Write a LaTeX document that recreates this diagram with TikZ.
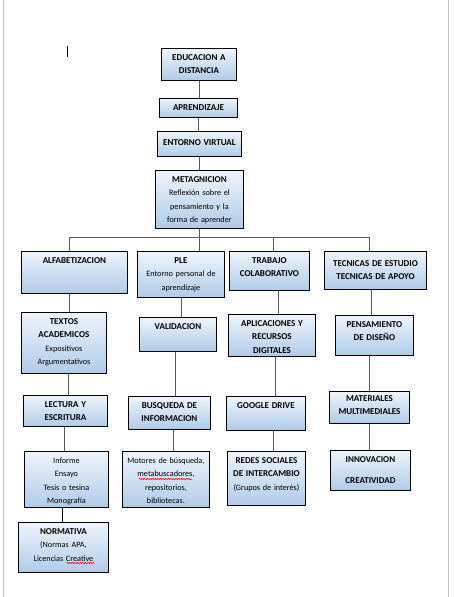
\documentclass[tikz,border=0pt]{standalone}
\usepackage{fontspec}
\setmainfont{Carlito}
\usepackage{xcolor}
\usetikzlibrary{decorations.pathmorphing}

\definecolor{boxtop}{HTML}{EEF4FB}
\definecolor{boxbot}{HTML}{AFCBE8}
\definecolor{linkgray}{HTML}{5A5A5A}
\definecolor{pagegray}{HTML}{C4C4C4}

\newcommand{\ttl}[1]{{\fontsize{9}{13.5}\selectfont\bfseries #1}}

\tikzset{
  box/.style={draw=black, line width=0.9, top color=boxtop, bottom color=boxbot,
    anchor=north west, align=center, inner xsep=2, inner ysep=4, text height=8,
    font=\fontsize{8.2}{13.5}\selectfont},
  link/.style={draw=linkgray, line width=0.8},
  spellerr/.style={draw=red, line width=0.5, decorate,
    decoration={snake, amplitude=0.7, segment length=2.6}},
}

\begin{document}
\begin{tikzpicture}[x=1pt,y=-1pt]
			\fill[white] (0,0) rectangle (453,597);
			\useasboundingbox (0,0) rectangle (453,597);
			\draw[pagegray,line width=1.5] (3.5,0) -- (3.5,597);
			\draw[pagegray,line width=1.5] (448.5,0) -- (448.5,597);
			\draw[line width=0.8] (67,46) -- (67,57);
			% main column
			\node[box,text width=71,text depth=16] (educ) at (161,48) {\ttl{EDUCACION A}\\\ttl{DISTANCIA}};
			\node[box,text width=74,text depth=3] (aprend) at (159,98) {\ttl{APRENDIZAJE}};
			\node[box,text width=80,text height=10,text depth=7] (entorno) at (157,131) {\ttl{ENTORNO VIRTUAL}};
			\node[box,text width=84,text depth=42] (metag) at (155,170) {\ttl{METAGNICION}\\Reflexión sobre el\\pensamiento y la\\forma de aprender};
			% second row
			\node[box,text width=102,text depth=26] (alf) at (21,251) {\ttl{ALFABETIZACION}};
			\node[box,text width=83,text depth=30] (ple) at (137,251) {\ttl{PLE}\\Entorno personal de\\aprendizaje};
			\node[box,text width=76,text depth=23] (trab) at (229,251) {\ttl{TRABAJO}\\\ttl{COLABORATIVO}};
			\node[box,text width=98,text height=11,text depth=19] (tecn) at (324,251) {\ttl{TECNICAS DE ESTUDIO}\\\ttl{TECNICAS DE APOYO}};
			% third row
			\node[box,text width=81,text depth=45] (textos) at (21,312) {\ttl{TEXTOS}\\\ttl{ACADEMICOS}\\Expositivos\\Argumentativos};
			\node[box,text width=73,text depth=18] (valid) at (139,317) {\ttl{VALIDACION}};
			\node[box,text width=83,text depth=26] (aplic) at (228,314) {\ttl{APLICACIONES Y}\\\ttl{RECURSOS}\\\ttl{DIGITALES}};
			\node[box,text width=74,text depth=24] (pensam) at (335,315) {\ttl{PENSAMIENTO}\\\ttl{DE DISEÑO}};
			% fourth row
			\node[box,text width=80,text depth=15] (lect) at (23,395) {\ttl{LECTURA Y}\\\ttl{ESCRITURA}};
			\node[box,text width=78,text depth=17] (busq) at (128,396) {\ttl{BUSQUEDA DE}\\\ttl{INFORMACION}};
			\node[box,text width=75,text depth=18] (google) at (226,396) {\ttl{GOOGLE DRIVE}};
			\node[box,text width=76,text height=6,text depth=18] (mater) at (329,391) {\ttl{MATERIALES}\\\ttl{MULTIMEDIALES}};
			% fifth row
			\node[box,text width=80,text depth=40] (inform) at (24,451) {Informe\\Ensayo\\Tesis o tesina\\Monografía};
			\node[box,text width=83,text depth=40] (motores) at (122,451) {Motores de búsqueda,\\metabuscadores,\\repositorios,\\bibliotecas.};
			\node[box,text width=74,text depth=38] (redes) at (227,451) {\ttl{REDES SOCIALES}\\\ttl{DE INTERCAMBIO}\\(Grupos de interés)};
			\node[box,text width=76,text depth=24] (innov) at (330,450) {\ttl{INNOVACION}\\[7.5pt]\ttl{CREATIVIDAD}};
			\node[box,text width=86,text depth=34] (normat) at (18,522) {\ttl{NORMATIVA}\\(Normas APA,\\Licencias Creative};
			% spelling marks
			\draw[spellerr] ([xshift=-27,yshift=-28]motores.north) -- ([xshift=26,yshift=-28]motores.north);
			\draw[spellerr] ([xshift=3,yshift=-41]normat.north) -- ([xshift=31,yshift=-41]normat.north);
			% connectors
			\coordinate (busL) at (69,237);
			\coordinate (busR) at (369,237);
			\draw[link] (educ.south) -- (educ.south |- aprend.north);
			\draw[link] (aprend.south) -- (aprend.south |- entorno.north);
			\draw[link] (entorno.south) -- (entorno.south |- metag.north);
			\draw[link] (metag.south) -- (metag.south |- ple.north);
			\draw[link] (busL) -- (busR);
			\draw[link] (busL) -- (busL |- alf.north);
			\draw[link] ([xshift=4]trab.north |- busL) -- ([xshift=4]trab.north);
			\draw[link] (busR) -- (busR |- tecn.north);
			\draw[link] (busL |- alf.south) -- (busL |- textos.north);
			\draw[link] ([xshift=4.5]textos.south) -- ([xshift=4.5]textos.south |- lect.north);
			\draw[link] ([xshift=-1]lect.south) -- ([xshift=-1]lect.south |- inform.north);
			\draw[black,line width=0.8] ([xshift=-4]inform.south) -- ([xshift=-4]inform.south |- normat.north);
			\draw[link] (ple.south) -- (ple.south |- valid.north);
			\draw[link] ([xshift=-2.5]valid.south) -- ([xshift=-2.5]valid.south |- busq.north);
			\draw[link] ([xshift=4]busq.south) -- ([xshift=4]busq.south |- motores.north);
			\draw[link] ([xshift=9]trab.south) -- ([xshift=9]trab.south |- aplic.north);
			\draw[link] ([xshift=3.5]aplic.south) -- ([xshift=3.5]aplic.south |- google.north);
			\draw[link] ([xshift=7.5]google.south) -- ([xshift=7.5]google.south |- redes.north);
			\draw[link] ([xshift=-4]tecn.south) -- ([xshift=-4]tecn.south |- pensam.north);
			\draw[link] ([xshift=-5]pensam.south) -- ([xshift=-5]pensam.south |- mater.north);
			\draw[link] (mater.south) -- (mater.south |- innov.north);
		\end{tikzpicture}
\end{document}
